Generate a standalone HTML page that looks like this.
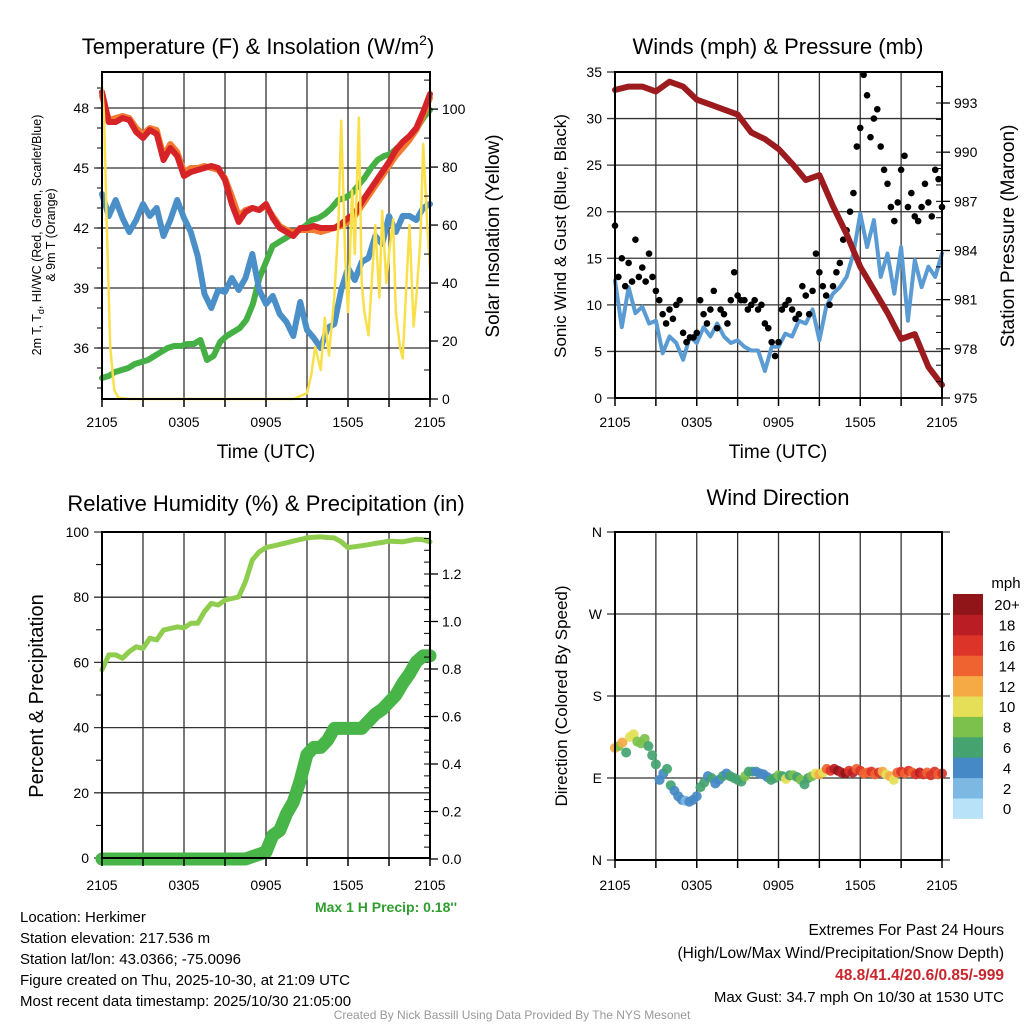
<!DOCTYPE html>
<html><head><meta charset="utf-8"><title>Weather station panels</title>
<style>
html,body{margin:0;padding:0;background:#fff;}
svg{display:block;font-family:"Liberation Sans",Arial,sans-serif;}
</style></head>
<body>
<svg id="root" width="1024" height="1024" viewBox="0 0 1024 1024" xmlns="http://www.w3.org/2000/svg"></svg>
<script>
// ---------------- DATA ----------------
const tempF = [48.8,47.3,47.3,47.5,47.4,46.8,46.5,46.9,46.7,45.4,46.0,45.6,44.6,44.8,44.9,45.0,45.1,45.0,44.4,43.2,42.3,42.8,43.0,42.9,43.2,42.5,42.0,41.8,41.6,42.0,42.0,42.1,42.0,42.0,42.0,42.2,42.5,42.7,43.3,43.8,44.3,44.8,45.3,45.9,46.3,46.6,47.0,47.8,48.7];
const temp9mF = [48.6,47.4,47.5,47.6,47.5,47.0,46.7,47.0,46.9,45.6,46.2,45.8,44.8,45.0,45.0,45.1,45.0,44.9,44.5,43.6,42.6,42.9,43.0,42.9,43.1,42.6,42.1,41.9,41.8,41.9,41.9,41.9,41.8,41.9,42.0,42.1,42.3,42.6,43.1,43.6,44.1,44.6,45.1,45.6,46.0,46.4,46.9,47.6,48.5];
const dewF = [34.5,34.6,34.8,34.9,35.0,35.2,35.3,35.4,35.6,35.8,36.0,36.1,36.1,36.2,36.2,36.4,35.4,35.6,36.3,36.6,36.8,37.0,37.4,38.2,39.5,40.3,41.1,41.3,41.5,41.7,41.9,42.1,42.4,42.5,42.7,43.0,43.4,43.5,43.7,44.1,44.5,45.0,45.4,45.6,45.7,46.0,46.2,46.6,47.0,47.5,47.9];
const windChillF = [43.7,42.6,43.4,42.5,41.8,42.4,43.2,42.6,43.0,41.6,42.4,43.4,42.5,41.8,40.6,38.7,38.0,38.9,38.8,39.5,38.9,39.5,40.7,38.9,38.2,38.6,37.7,37.3,36.6,38.3,36.9,36.5,36.0,37.0,37.2,38.9,40.0,39.4,40.3,40.5,41.6,41.2,42.6,41.8,42.6,42.6,42.4,43.0,43.2];
const solarHours = [0,0.15,0.35,0.6,0.9,1.2,2,6,10,14,15,15.3,15.6,16,16.3,16.6,17,17.3,17.5,17.8,18,18.3,18.5,18.8,19,19.2,19.5,19.8,20,20.3,20.5,20.8,21,21.3,21.5,21.8,22,22.3,22.5,22.8,23,23.3,23.5,23.8,24];
const solarWm2 = [108,98,60,18,3,0.5,0,0,0,0,2,8,18,10,28,15,35,60,96,48,30,72,50,97,40,30,22,45,60,35,65,40,50,62,30,18,14,42,60,25,35,55,88,60,45];
const windMph = [12.6,7.6,11.9,9.1,9.8,8.0,8.3,4.8,6.6,5.9,4.1,6.6,5.9,7.6,6.6,8.0,6.6,5.9,6.2,5.5,5.1,5.1,2.9,5.5,5.5,6.9,6.6,8.3,8.0,9.5,6.2,9.8,11.2,11.9,13.0,15.5,19.8,16.2,19.1,13.0,15.5,11.2,16.2,8.3,14.8,11.9,14.1,13.0,15.5];
const gustMph = [18.5,13,15,12,14.5,12.5,17,13,14,12.5,15.5,13,11.5,10.5,9,8,9.5,8.5,10,10.5,7,6,6.5,6.5,7,10.5,9,8,9.5,11.5,7.5,9.5,9,8,10.5,13.5,11,10.5,10.5,9.5,10,10.5,9.5,10,8,7.5,6,4.5,6,9.5,10,10.5,9.5,8.5,9,12,11,9,11.5,15.5,13.5,12,11,10,12,13.5,14.5,17,18,20,22,27,29,34.7,32.5,28,30,31,27,24.5,23,20.5,19,21,24.5,26,20.5,22,19.5,19,20.5,23,21,19.5,24.5,23.5,20.5];
const pressureHours = [0,1,2,3,4,5,6,7,8,9,10,11,12,13,14,15,16,17,18,19,20,21,22,23,24];
const pressureMb = [993.8,994.0,994.0,993.7,994.3,994.0,993.2,992.9,992.6,992.3,991.2,990.8,990.2,989.3,988.3,988.6,986.7,985.0,983.0,981.6,980.2,978.6,978.9,976.9,975.8];
const rhPct = [57.7,62.3,62.3,61.3,63.3,64.8,64.3,67.4,66.9,69.9,70.4,70.9,70.6,72.0,72.0,75.6,78.1,77.6,79.1,79.6,80.1,84.8,91.4,93.9,95.2,95.7,96.2,96.7,97.2,97.7,98.2,98.4,98.5,98.3,98.2,97.0,95.2,95.5,95.8,96.1,96.5,96.8,97.2,97.1,97.0,97.4,97.8,97.6,97.0];
const precipIn = [0,0,0,0,0,0,0,0,0,0,0,0,0,0,0,0,0,0,0,0,0,0,0.01,0.02,0.03,0.10,0.12,0.19,0.24,0.33,0.44,0.47,0.47,0.50,0.55,0.55,0.55,0.55,0.55,0.58,0.61,0.63,0.66,0.69,0.74,0.78,0.83,0.855,0.855];
const dirDeg = [123,125,129,118,135,138,130,128,133,125,115,105,88,95,100,82,76,70,66,65,64,66,70,80,85,92,90,84,88,92,95,92,90,88,86,92,97,97,97,95,94,91,88,90,93,92,89,93,93,91,88,83,90,92,95,94,96,100,98,100,98,96,95,98,96,100,98,95,96,97,94,96,97,94,92,88,96,97,95,98,96,94,96,94,96,93,97,94,95];
const dirSpeed = [12,8,12,7,10,10,9,8,8,7,6,6,4,5,6,6,4,4,4,3,4,4,4,6,6,4,6,4,5,6,5,7,7,6,6,8,6,6,4,4,4,5,6,6,8,6,10,6,8,6,8,7,7,8,10,12,11,14,16,18,20,18,20,16,18,14,16,14,14,16,14,16,13,10,12,10,14,16,14,16,14,16,18,16,14,16,16,14,16];
const speedBins = ["0","2","4","6","8","10","12","14","16","18","20+"];
const speedColors = ["#b7e2f8","#7db8e2","#4589c6","#44a36f","#7cc14c","#e4df57","#f6aa45","#ef6330","#dc3428","#bb1d25","#8f1519"];
const xTickLabels = ["2105","0305","0905","1505","2105"];

// ---------------- HELPERS ----------------
const NS = "http://www.w3.org/2000/svg";
const root = document.getElementById("root");
function mk(tag, attrs, parent) {
  const e = document.createElementNS(NS, tag);
  for (const k in attrs) e.setAttribute(k, attrs[k]);
  (parent || root).appendChild(e);
  return e;
}
function txt(s, attrs, parent) {
  const e = mk("text", attrs, parent);
  e.textContent = s;
  return e;
}
function linScale(d0, d1, r0, r1) { return v => r0 + (v - d0) / (d1 - d0) * (r1 - r0); }
function pathFrom(xsArr, ysArr, xs, ys) {
  let d = "";
  for (let i = 0; i < ysArr.length; i++) d += (i ? "L" : "M") + xs(xsArr[i]).toFixed(1) + " " + ys(ysArr[i]).toFixed(1);
  return d;
}
function hoursFor(arr) { return arr.map((_, i) => i * 24 / (arr.length - 1)); }

function frame(g, x0, y0, x1, y1) {
  const r = mk("rect", {x:x0, y:y0, width:x1-x0, height:y1-y0, fill:"none", stroke:"#000", "stroke-width":2}, g);
  
  
}
function timeAxis(g, xs, y1, labelY) {
  for (let h = 0; h <= 24; h += 3) {
    const l = mk("line", {x1:xs(h), x2:xs(h), y1:y1, y2:y1+8, stroke:"#000", "stroke-width":1.5}, g);
    
    
  }
  xTickLabels.forEach((s, i) => {
    const t = txt(s, {x:xs(i*6), y:labelY, "font-size":14, "text-anchor":"middle"}, g);
    
    
  });
}
function vGrid(g, xs, y0, y1) {
  for (let h = 3; h < 24; h += 3) {
    const l = mk("line", {x1:xs(h), x2:xs(h), y1:y0, y2:y1, stroke:"#333", "stroke-width":1.3}, g);
    
    
  }
}
function hGridLeft(g, vals, ys, x0, x1, labels) {
  vals.forEach((v, i) => {
    const l = mk("line", {x1:x0-8, x2:x1, y1:ys(v), y2:ys(v), stroke:"#333", "stroke-width":1.3}, g);
    
    
    const t = txt(labels ? labels[i] : String(v), {x:x0-13, y:ys(v)+5, "font-size":14, "text-anchor":"end"}, g);
    
    
  });
}
function rightAxis(g, vals, ys, x1, fmt, minorVals) {
  (minorVals || []).forEach(v => {
    const l = mk("line", {x1:x1-6, x2:x1, y1:ys(v), y2:ys(v), stroke:"#000", "stroke-width":1}, g);
    
    
  });
  vals.forEach(v => {
    const l = mk("line", {x1:x1, x2:x1+8, y1:ys(v), y2:ys(v), stroke:"#000", "stroke-width":1.3}, g);
    
    
    const t = txt(fmt(v), {x:x1+12, y:ys(v)+5, "font-size":14}, g);
    
    
  });
}
function series(g, d, color, w, name) {
  const p = mk("path", {d:d, fill:"none", stroke:color, "stroke-width":w, "stroke-linejoin":"round", "stroke-linecap":"round"}, g);
  
  
  return p;
}
function rotText(s, x, y, size, g) {
  const t = txt(s, {x:0, y:0, "font-size":size, "text-anchor":"middle", transform:`translate(${x},${y}) rotate(-90)`}, g);
  return t;
}

// ---------------- PANEL 1 ----------------
{
  const g = mk("g", {});
  
  
  const x0=102, x1=430, y0=72, y1=399;
  const xs = linScale(0, 24, x0, x1);
  const ys = linScale(33.45, 49.8, y1, y0);
  const yr = linScale(0, 112.8, y1, y0);
  vGrid(g, xs, y0, y1);
  hGridLeft(g, [36,39,42,45,48], ys, x0, x1);
  for (let v = 34; v <= 49; v++) {
    const l = mk("line", {x1:x0-5, x2:x0, y1:ys(v), y2:ys(v), stroke:"#000", "stroke-width":1}, g);
    
    
  }
  series(g, pathFrom(hoursFor(dewF), dewF, xs, ys), "#45b043", 6, "dewpoint-line");
  series(g, pathFrom(hoursFor(windChillF), windChillF, xs, ys), "#4a8fc8", 6, "wind-chill-line");
  series(g, pathFrom(hoursFor(temp9mF), temp9mF, xs, ys), "#f47c30", 6, "temp-9m-line");
  series(g, pathFrom(hoursFor(tempF), tempF, xs, ys), "#d62328", 6, "temp-2m-line");
  series(g, pathFrom(solarHours, solarWm2, xs, yr), "#f9e04b", 2.5, "solar-line");
  frame(g, x0, y0, x1, y1);
  rightAxis(g, [0,20,40,60,80,100], yr, x1, v => String(v), [10,30,50,70,90,110]);
  timeAxis(g, xs, y1, 427);
  const t1 = txt("Temperature (F) & Insolation (W/m", {x:258, y:54, "font-size":22, "text-anchor":"middle"}, g);
  
  
  const sup = mk("tspan", {"font-size":14, dy:-9}, t1); sup.textContent = "2";
  const cl = mk("tspan", {"font-size":22, dy:9}, t1); cl.textContent = ")";
  const xt = txt("Time (UTC)", {x:266, y:458, "font-size":19, "text-anchor":"middle"}, g);
  
  
  const ya = rotText("", 41, 235, 12.5, g);
  
  
  const a = mk("tspan", {}, ya); a.textContent = "2m T, T";
  const b = mk("tspan", {"font-size":9, dy:3}, ya); b.textContent = "d";
  const c = mk("tspan", {dy:-3}, ya); c.textContent = ", HI/WC (Red, Green, Scarlet/Blue)";
  const ya2 = rotText("& 9m T (Orange)", 55, 235, 12.5, g);
  
  
  const yr2 = rotText("Solar Insolation (Yellow)", 499, 236, 19, g);
  
  
}

// ---------------- PANEL 2 ----------------
{
  const g = mk("g", {});
  
  
  const x0=615, x1=942, y0=72, y1=398;
  const xs = linScale(0, 24, x0, x1);
  const ys = linScale(0, 35, y1, y0);
  const yp = linScale(975, 993, 398, 103);
  vGrid(g, xs, y0, y1);
  hGridLeft(g, [0,5,10,15,20,25,30,35], ys, x0, x1);
  series(g, pathFrom(hoursFor(windMph), windMph, xs, ys), "#5a9bd3", 4, "sonic-wind-line");
  const gh = hoursFor(gustMph);
  gustMph.forEach((v, i) => {
    const c = mk("circle", {cx:xs(gh[i]), cy:ys(v), r:3.3, fill:"#000"}, g);
    
    
  });
  series(g, pathFrom(pressureHours, pressureMb, xs, yp), "#9b1b1e", 6, "pressure-line");
  frame(g, x0, y0, x1, y1);
  const minors = []; for (let v = 976; v <= 994; v++) minors.push(v);
  rightAxis(g, [975,978,981,984,987,990,993], yp, x1, v => String(v), minors);
  timeAxis(g, xs, y1, 427);
  const t = txt("Winds (mph) & Pressure (mb)", {x:778, y:54, "font-size":22, "text-anchor":"middle"}, g);
  
  
  const xt = txt("Time (UTC)", {x:778, y:458, "font-size":19, "text-anchor":"middle"}, g);
  
  
  const yl = rotText("Sonic Wind & Gust (Blue, Black)", 566, 236, 17, g);
  
  
  const yrr = rotText("Station Pressure (Maroon)", 1014, 236, 19, g);
  
  
}

// ---------------- PANEL 3 ----------------
{
  const g = mk("g", {});
  
  
  const x0=102, x1=430, y0=532, y1=858;
  const xs = linScale(0, 24, x0, x1);
  const ys = linScale(0, 100, y1, y0);
  const yp = linScale(0, 1.2, 859, 574);
  vGrid(g, xs, y0, y1);
  hGridLeft(g, [0,20,40,60,80,100], ys, x0, x1);
  [10,30,50,70,90].forEach(v => {
    const l = mk("line", {x1:x0-6, x2:x0, y1:ys(v), y2:ys(v), stroke:"#000", "stroke-width":1}, g);
    
    
  });
  series(g, pathFrom(hoursFor(rhPct), rhPct, xs, ys), "#8fcd4f", 5, "humidity-line");
  series(g, pathFrom(hoursFor(precipIn), precipIn, xs, yp), "#48b548", 13, "precip-line");
  frame(g, x0, y0, x1, y1);
  const minors = []; for (let v = 0.05; v < 1.38; v += 0.05) minors.push(v);
  rightAxis(g, [0,0.2,0.4,0.6,0.8,1.0,1.2], yp, x1, v => v.toFixed(1), minors);
  timeAxis(g, xs, y1, 890);
  const t = txt("Relative Humidity (%) & Precipitation (in)", {x:266, y:511, "font-size":22, "text-anchor":"middle"}, g);
  
  
  const yl = rotText("Percent & Precipitation", 43, 696, 20, g);
  
  
  const mp = txt("Max 1 H Precip: 0.18''", {x:386, y:912, "font-size":14, "font-weight":"bold", fill:"#2f9e2f", "text-anchor":"middle"}, g);
  
  
}

// ---------------- PANEL 4 ----------------
{
  const g = mk("g", {});
  
  
  const x0=615, x1=942, y0=532, y1=860;
  const xs = linScale(0, 24, x0, x1);
  const ys = linScale(0, 360, y1, y0);
  vGrid(g, xs, y0, y1);
  hGridLeft(g, [0,90,180,270,360], ys, x0, x1+8, ["N","E","S","W","N"]);
  const dh = hoursFor(dirDeg);
  dirDeg.forEach((d, i) => {
    const bin = Math.min(10, Math.floor(dirSpeed[i] / 2));
    const c = mk("circle", {cx:xs(dh[i]), cy:ys(d), r:5, fill:speedColors[bin], "fill-opacity":0.92}, g);
    
    
  });
  frame(g, x0, y0, x1, y1);
  timeAxis(g, xs, y1, 890);
  const t = txt("Wind Direction", {x:778, y:505, "font-size":22, "text-anchor":"middle"}, g);
  
  
  const yl = rotText("Direction (Colored By Speed)", 567, 696, 17, g);
  
  
  const cb = mk("g", {}, g);
  
  
  const bh = 20.4, cbTop = 594, n = speedBins.length;
  speedBins.forEach((lab, i) => {
    const yy = cbTop + (n - 1 - i) * bh;
    const r = mk("rect", {x:953, y:yy, width:30, height:bh+0.5, fill:speedColors[i]}, cb);
    
    
    const tl = txt(lab, {x:1007, y:yy+bh/2+6, "font-size":15, "text-anchor":"middle"}, cb);
    
    
  });
  const mph = txt("mph", {x:1006, y:588, "font-size":15, "text-anchor":"middle"}, cb);
  
  
}

// ---------------- FOOTER TEXT ----------------
{
  const info = ["Location: Herkimer","Station elevation: 217.536 m","Station lat/lon: 43.0366; -75.0096","Figure created on Thu, 2025-10-30, at 21:09 UTC","Most recent data timestamp: 2025/10/30 21:05:00"];
  info.forEach((s, i) => {
    const t = txt(s, {x:20, y:922 + i*21, "font-size":15});
    
    
  });
  const r1 = txt("Extremes For Past 24 Hours", {x:1004, y:935, "font-size":15.5, "text-anchor":"end"});
  
  
  const r2 = txt("(High/Low/Max Wind/Precipitation/Snow Depth)", {x:1004, y:958, "font-size":15.5, "text-anchor":"end"});
  
  
  const r3 = txt("48.8/41.4/20.6/0.85/-999", {x:1004, y:980, "font-size":15.5, "font-weight":"bold", fill:"#c8262c", "text-anchor":"end"});
  
  
  const r4 = txt("Max Gust: 34.7 mph On 10/30 at 1530 UTC", {x:1004, y:1002, "font-size":15, "text-anchor":"end"});
  
  
  const cr = txt("Created By Nick Bassill Using Data Provided By The NYS Mesonet", {x:512, y:1019, "font-size":12, fill:"#999", "text-anchor":"middle"});
  
  
}
</script>
</body></html>
